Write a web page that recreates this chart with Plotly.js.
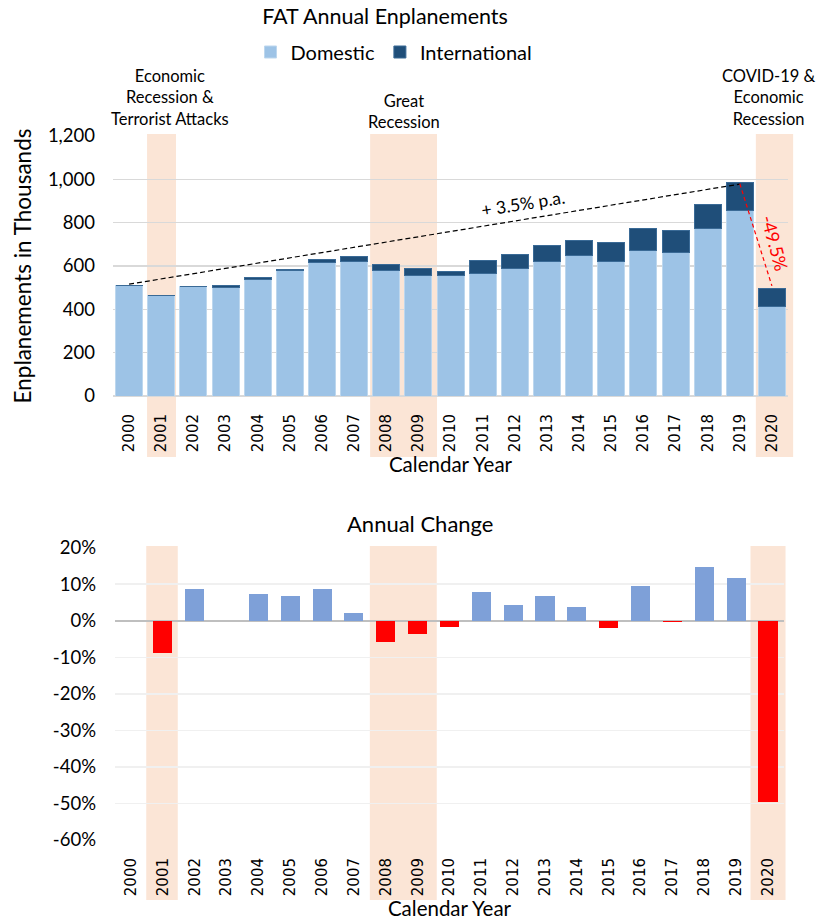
<!DOCTYPE html>
<html>
<head>
<meta charset="utf-8">
<script src="https://cdn.plot.ly/plotly-3.0.1.min.js"></script>
<style>html,body{margin:0;padding:0;background:#fff}#chart{width:823px;height:920px}</style>
</head>
<body>
<div id="chart"></div>
<script>
// ---- data ----
const years = ['2000','2001','2002','2003','2004','2005','2006','2007','2008','2009','2010',
               '2011','2012','2013','2014','2015','2016','2017','2018','2019','2020'];
const domestic = [509,466,504,503,540,578,615,620,577,554,558,566,589,623,649,620,672,663,772,855,413];
const international = [0,0,0,5,6,5,17,26,29,35,17,58,62,71,71,87,100,103,111,131,85];
const annualChange = [null,-8.9,8.6,null,7.2,6.8,8.8,2.0,-5.7,-3.5,-1.8,7.9,4.4,6.8,3.8,-2.1,9.6,-0.4,14.8,11.7,-49.5];
const trendYears = ['2000','2019'];
const trendValues = [516,978];
const dropYears = ['2019','2020'];
const dropValues = [980,508];
const changeTickVals = [20,10,0,-10,-20,-30,-40,-50,-60];
const changeTickText = ['20%','10%','0%','-10%','-20%','-30%','-40%','-50%','-60%'];

const FONT = "Lato, sans-serif";
const TICKFONT = "'DejaVu Sans', Verdana, sans-serif";
const W = 823, H = 920;
const py = p => 1 - p / H;           // pixel row -> paper y
const N = years.length;
const fr = c => (c + 0.5) / N;       // category index -> axis-domain fraction

const shade = '#FBE5D6';
const shadeSpans = [[0.56,1.46],[7.5,9.58],[19.5,20.66]];
const shadeSpans2 = [[0.48,1.47],[7.5,9.6],[19.45,20.55]];
const shapes = [];
shadeSpans.forEach(s => shapes.push({type:'rect', xref:'x domain', yref:'paper', x0:fr(s[0]), x1:fr(s[1]),
  y0:py(457), y1:py(134), fillcolor:shade, line:{width:0}, layer:'below'}));
shadeSpans2.forEach(s => shapes.push({type:'rect', xref:'x2 domain', yref:'paper', x0:fr(s[0]), x1:fr(s[1]),
  y0:py(900), y1:py(546), fillcolor:shade, line:{width:0}, layer:'below'}));

const traces = [
  {type:'bar', name:'Domestic', x:years, y:domestic, xaxis:'x', yaxis:'y', width:0.84,
   marker:{color:'#9DC3E6', line:{color:'#BDD7EE', width:1}}, hoverinfo:'skip'},
  {type:'bar', name:'International', x:years, y:international, xaxis:'x', yaxis:'y', width:0.84,
   marker:{color:'#1F4E79', line:{color:'#3A6A96', width:1}}, hoverinfo:'skip'},
  {type:'scatter', mode:'lines', x:trendYears, y:trendValues, xaxis:'x', yaxis:'y', showlegend:false,
   line:{color:'#000', width:1.2, dash:'5px,3px'}, hoverinfo:'skip'},
  {type:'scatter', mode:'lines', x:dropYears, y:dropValues, xaxis:'x', yaxis:'y', showlegend:false,
   line:{color:'#FF0000', width:1.2, dash:'4px,3px'}, hoverinfo:'skip'},
  {type:'bar', x:years, y:annualChange, xaxis:'x2', yaxis:'y2', width:0.6, showlegend:false,
   marker:{color:annualChange.map(v => v !== null && v < 0 ? '#FF0000' : '#7EA0D8')}, hoverinfo:'skip'}
];

const ann = (o) => Object.assign({showarrow:false, xanchor:'center', yanchor:'middle'}, o);
const annotations = [
  ann({xref:'x', yref:'paper', x:1.27, y:py(98), text:'Economic<br>Recession &<br>Terrorist Attacks',
   font:{family:FONT, size:16.5, color:'#000'}}),
  ann({xref:'x', yref:'paper', x:8.55, y:py(111.5), text:'Great<br>Recession',
   font:{family:FONT, size:16.5, color:'#000'}}),
  ann({xref:'x', yref:'paper', x:19.9, y:py(97), text:'COVID-19 &<br>Economic<br>Recession',
   font:{family:FONT, size:16.5, color:'#000'}}),
  ann({xref:'x', yref:'y', x:12.26, y:887, text:'+ 3.5% p.a.', textangle:-9,
   font:{family:FONT, size:17.5, color:'#000'}}),
  ann({xref:'x', yref:'y', x:20.1, y:707, text:'-49.5%', textangle:75,
   font:{family:FONT, size:18, color:'#FF0000'}}),
  ann({xref:'paper', yref:'paper', x:(420-113)/675, y:py(523), text:'Annual Change',
   font:{family:FONT, size:22, color:'#000'}}),
  // arrowheads at the ends of the dashed lines
  {xref:'x', yref:'y', x:trendYears[1], y:trendValues[1], ax:-10, ay:1.6, showarrow:true, text:'',
   arrowhead:2, arrowsize:1.6, arrowwidth:1.3, arrowcolor:'#000', standoff:0},
  {xref:'x', yref:'y', x:dropYears[1], y:dropValues[1], ax:-2.9, ay:-9.6, showarrow:true, text:'',
   arrowhead:2, arrowsize:1.7, arrowwidth:1.3, arrowcolor:'#FF0000', standoff:0}
];

const layout = {
  width:W, height:H,
  margin:{l:113, r:35, t:0, b:0},
  paper_bgcolor:'#fff', plot_bgcolor:'rgba(0,0,0,0)',
  barmode:'stack',
  font:{family:FONT, color:'#000'},
  title:{text:'FAT Annual Enplanements', xref:'container', yref:'container', x:385/W, y:py(16),
         xanchor:'center', yanchor:'middle', font:{family:FONT, size:21.5, color:'#000'}},
  legend:{orientation:'h', x:(394-113)/675, y:py(52), xanchor:'center', yanchor:'middle',
          font:{family:FONT, size:20, color:'#000'}, itemwidth:30, traceorder:'normal'},
  xaxis:{domain:[0,1], anchor:'y', type:'category', range:[-0.5,20.5], showgrid:false, showline:false,
         ticks:'', tickangle:-90, tickfont:{family:TICKFONT, size:15, color:'#000'}, ticklabelstandoff:14,
         title:{text:'Calendar Year', font:{family:FONT, size:20.5, color:'#000'}, standoff:2}},
  yaxis:{domain:[py(396), py(136)], anchor:'x', range:[0,1200], dtick:200, tickformat:',d',
         gridcolor:'#D9D9D9', gridwidth:1.3, zeroline:true, zerolinecolor:'#D9D9D9', zerolinewidth:1.3,
         showline:false, ticks:'', tickfont:{family:FONT, size:18.5, color:'#000'}, ticklabelstandoff:17,
         title:{text:'Enplanements in Thousands', font:{family:FONT, size:22.5, color:'#000'}, standoff:10}},
  xaxis2:{domain:[0.003,0.994], anchor:'y2', type:'category', range:[-0.5,20.5], showgrid:false, showline:false,
          ticks:'', tickangle:-90, tickfont:{family:TICKFONT, size:15, color:'#000'}, ticklabelstandoff:14,
          title:{text:'Calendar Year', font:{family:FONT, size:20.5, color:'#000'}, standoff:2}},
  yaxis2:{domain:[py(840), py(547.7)], anchor:'x2', range:[-60,20], tickmode:'array',
          tickvals:changeTickVals, ticktext:changeTickText,
          gridcolor:'#F0F0F0', gridwidth:1.6, zeroline:true, zerolinecolor:'#BFBFBF', zerolinewidth:2.2,
          showline:false, ticks:'', tickfont:{family:FONT, size:18.5, color:'#000'}, ticklabelstandoff:18},
  shapes:shapes,
  annotations:annotations
};

Plotly.newPlot('chart', traces, layout, {displayModeBar:false, staticPlot:true});
</script>
</body>
</html>
